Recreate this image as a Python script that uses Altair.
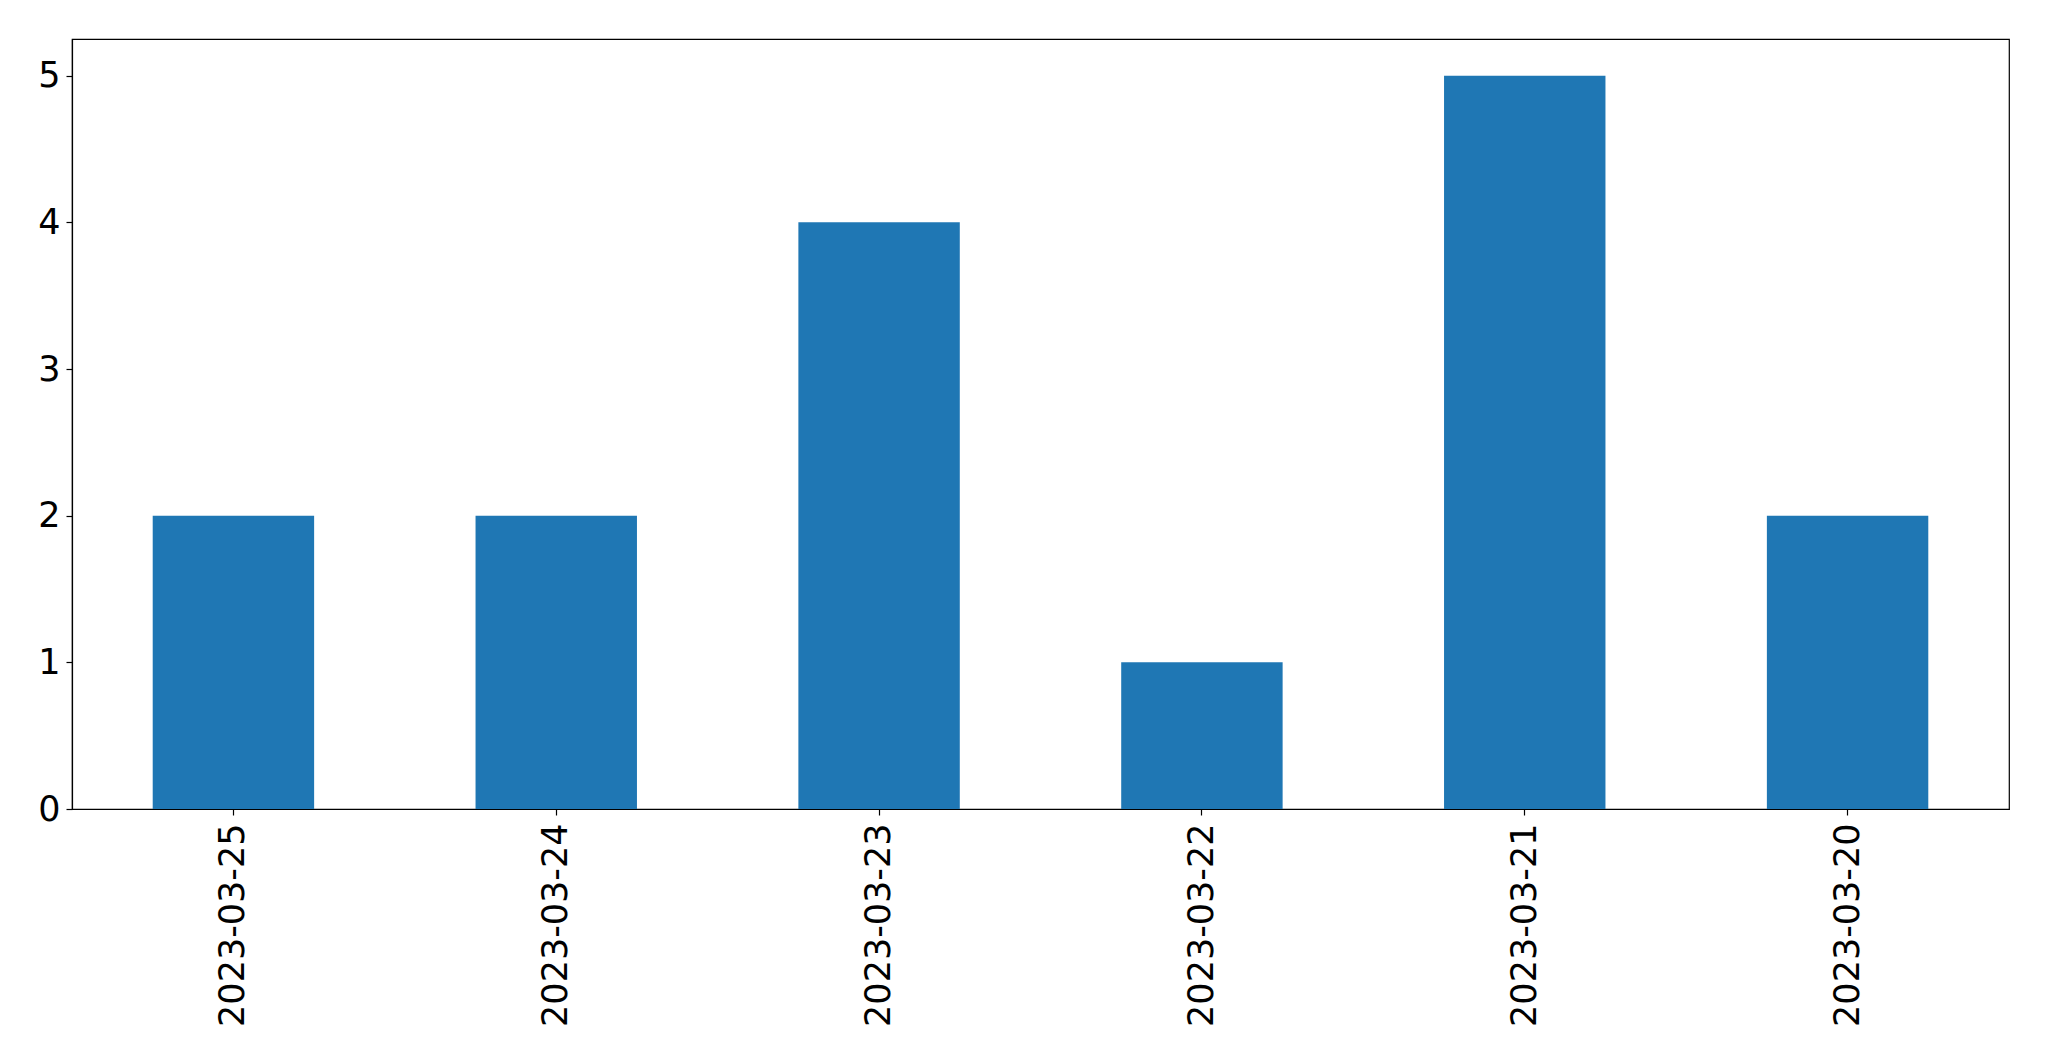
import altair as alt
import pandas as pd

dates = ["2023-03-25", "2023-03-24", "2023-03-23", "2023-03-22", "2023-03-21", "2023-03-20"]
counts = [2, 2, 4, 1, 5, 2]

df = pd.DataFrame({"date": dates, "count": counts})

FONT = "DejaVu Sans"
FS = 35

chart = alt.Chart(df).mark_bar(color="#1f77b4").encode(
    x=alt.X(
        "date:N",
        sort=None,
        title=None,
        scale=alt.Scale(paddingInner=0.5, paddingOuter=0.25),
        axis=alt.Axis(
            labelAngle=270,
            labelFontSize=FS,
            labelFont=FONT,
            labelColor="black",
            labelPadding=8,
            labelLimit=0,
            tickSize=6,
            tickColor="black",
            tickWidth=1.2,
            domainColor="black",
            domainWidth=1.2,
            grid=False,
            labelBaseline="middle",
            labelAlign="right",
        ),
    ),
    y=alt.Y(
        "count:Q",
        title=None,
        scale=alt.Scale(domain=[0, 5.25], nice=False),
        axis=alt.Axis(
            values=[0, 1, 2, 3, 4, 5],
            format="d",
            labelFontSize=FS,
            labelFont=FONT,
            labelColor="black",
            labelPadding=6,
            tickSize=6,
            tickColor="black",
            tickWidth=1.2,
            domainColor="black",
            domainWidth=1.2,
            grid=False,
        ),
    ),
).properties(
    width=1937,
    height=770,
    autosize=alt.AutoSizeParams(type="none"),
    padding={"left": 64, "top": 31, "right": 30, "bottom": 240},
).configure_view(
    stroke="black",
    strokeWidth=1.2,
)

chart.save("out.html", embed_options={"renderer": "svg", "actions": False})
